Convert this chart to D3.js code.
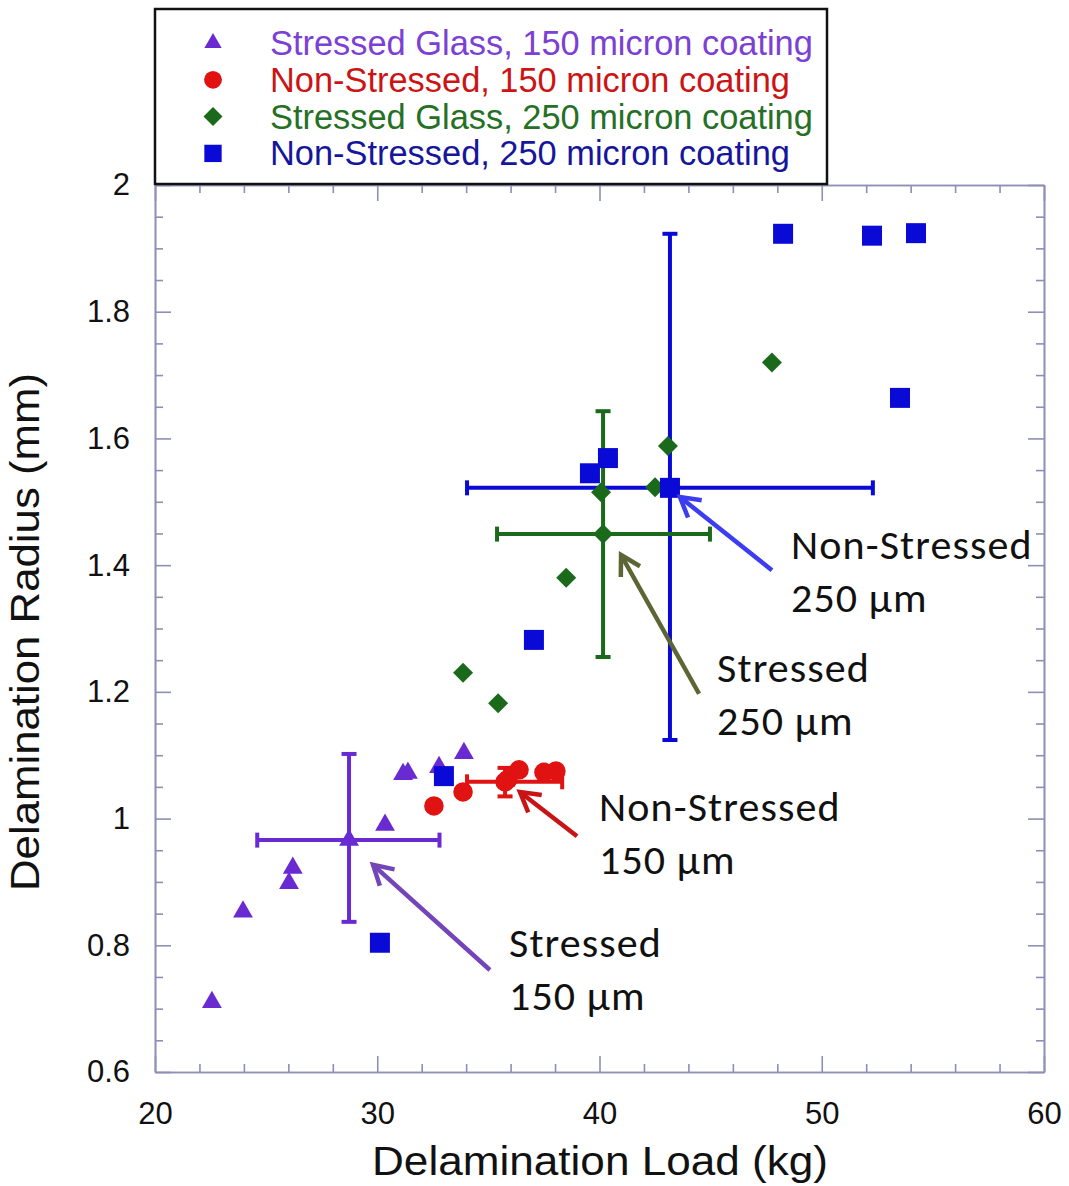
<!DOCTYPE html>
<html>
<head>
<meta charset="utf-8">
<script src="https://cdn.jsdelivr.net/npm/d3@7"></script>
<style>
  html, body { margin: 0; padding: 0; background: #fff; }
  svg { display: block; }
</style>
</head>
<body>
<svg id="chart" width="1069" height="1186"></svg>
<script>
// ---------- data ----------
const seriesNames = [
  "Stressed Glass, 150 micron coating",
  "Non-Stressed, 150 micron coating",
  "Stressed Glass, 250 micron coating",
  "Non-Stressed, 250 micron coating"
];
// Stressed Glass, 150 micron (triangles)
const s150Load   = [22.56, 23.96, 26.2, 26.03, 30.35, 31.16, 31.38, 32.78, 33.9];
const s150Radius = [0.71, 0.853, 0.922, 0.898, 0.99, 1.07, 1.072, 1.081, 1.103];
// Non-Stressed, 150 micron (circles)
const n150Load   = [32.55, 33.86, 35.88, 36.38, 37.5, 38.04];
const n150Radius = [1.02, 1.042, 1.062, 1.077, 1.073, 1.075];
// Stressed Glass, 250 micron (diamonds)
const s250Load   = [33.86, 35.44, 38.5, 40.07, 42.5, 43.08, 47.76];
const s250Radius = [1.23, 1.182, 1.38, 1.515, 1.523, 1.588, 1.72];
// Non-Stressed, 250 micron (squares)
const n250Load   = [30.12, 33.0, 37.05, 39.57, 40.38, 48.26, 52.26, 54.24, 53.52];
const n250Radius = [0.804, 1.067, 1.282, 1.545, 1.569, 1.923, 1.92, 1.924, 1.664];

// means with error bars: [meanLoad, loadLow, loadHigh, meanRadius, radiusLow, radiusHigh]
const s150Mean = [28.73, 24.6, 32.8, 0.966, 0.837, 1.102];
const n150Mean = [35.75, 34.04, 38.32, 1.058, 1.035, 1.08];
const s250Mean = [40.16, 35.39, 44.97, 1.449, 1.255, 1.643];
const n250Mean = [43.17, 34.04, 52.3, 1.522, 1.124, 1.923];

const xTicks = [20, 30, 40, 50, 60];
const xTickLabels = ["20", "30", "40", "50", "60"];
const yTicks = [0.6, 0.8, 1, 1.2, 1.4, 1.6, 1.8, 2];
const yTickLabels = ["0.6", "0.8", "1", "1.2", "1.4", "1.6", "1.8", "2"];

const annotationLines = [
  ["Non-Stressed", "250 \u00B5m"],
  ["Stressed", "250 \u00B5m"],
  ["Non-Stressed", "150 \u00B5m"],
  ["Stressed", "150 \u00B5m"]
];
// anchor of each annotation text (data units: load, radius of first baseline)
const annotationAnchor = [[48.62, 1.41], [45.29, 1.2155], [39.98, 0.996], [35.93, 0.7815]];
// arrows: [tailLoad, tailRadius, tipLoad, tipRadius]
const arrows = [
  [47.76, 1.392, 43.62, 1.5075],
  [44.48, 1.197, 40.97, 1.416],
  [38.99, 0.972, 36.42, 1.042],
  [35.07, 0.761, 29.81, 0.927]
];

// ---------- styles ----------
const markerColors = ["#6a2ad2", "#e01212", "#1b6a1b", "#0a0ad6"];
const legendTextColors = ["#7b40d4", "#cc1414", "#257025", "#16169c"];
const arrowColors = ["#3c3cf0", "#5c6634", "#c81414", "#7445b8"];
const axisColor = "#8e8eb6";

const svg = d3.select("#chart");
const x = d3.scaleLinear().domain([20, 60]).range([155, 1044]);
const y = d3.scaleLinear().domain([0.6, 2]).range([1072, 185]);

// ---------- axes ----------
const xMinor = d3.range(22, 60, 2).filter(v => v % 10 !== 0);
const yMinor = d3.range(0.65, 2, 0.05).filter(v => Math.abs(v * 5 - Math.round(v * 5)) > 1e-6);

function styleAxis(g) {
  g.selectAll("path, line").attr("stroke", axisColor).attr("stroke-width", 1.6);
  g.selectAll("text").attr("fill", "#111").attr("font-family", "'Liberation Sans', Arial, sans-serif").attr("font-size", 31);
}
const fmtX = (d, i) => xTickLabels[xTicks.indexOf(d)];
const fmtY = d => yTickLabels[yTicks.findIndex(t => Math.abs(t - d) < 1e-9)];

svg.append("g").attr("transform", "translate(0,1072)")
  .call(d3.axisBottom(x).tickValues(xTicks).tickFormat(fmtX).tickSizeInner(-16).tickSizeOuter(0).tickPadding(30))
  .call(styleAxis);
svg.append("g").attr("transform", "translate(0,1072)")
  .call(d3.axisBottom(x).tickValues(xMinor).tickFormat("").tickSizeInner(-8).tickSizeOuter(0))
  .call(styleAxis);
svg.append("g").attr("transform", "translate(0,185)")
  .call(d3.axisTop(x).tickValues(xTicks).tickFormat("").tickSizeInner(-16).tickSizeOuter(0))
  .call(styleAxis);
svg.append("g").attr("transform", "translate(0,185)")
  .call(d3.axisTop(x).tickValues(xMinor).tickFormat("").tickSizeInner(-8).tickSizeOuter(0))
  .call(styleAxis);
svg.append("g").attr("transform", "translate(155,0)")
  .call(d3.axisLeft(y).tickValues(yTicks).tickFormat(fmtY).tickSizeInner(-16).tickSizeOuter(0).tickPadding(25))
  .call(styleAxis);
svg.append("g").attr("transform", "translate(155,0)")
  .call(d3.axisLeft(y).tickValues(yMinor).tickFormat("").tickSizeInner(-8).tickSizeOuter(0))
  .call(styleAxis);
svg.append("g").attr("transform", "translate(1044,0)")
  .call(d3.axisRight(y).tickValues(yTicks).tickFormat("").tickSizeInner(-16).tickSizeOuter(0))
  .call(styleAxis);
svg.append("g").attr("transform", "translate(1044,0)")
  .call(d3.axisRight(y).tickValues(yMinor).tickFormat("").tickSizeInner(-8).tickSizeOuter(0))
  .call(styleAxis);

// axis titles
svg.append("text")
  .attr("x", 600).attr("y", 1175).attr("text-anchor", "middle")
  .attr("font-family", "'Liberation Sans', Arial, sans-serif").attr("font-size", 40).attr("fill", "#111")
  .attr("textLength", 456).attr("lengthAdjust", "spacingAndGlyphs")
  .text("Delamination Load (kg)");
svg.append("text")
  .attr("transform", "translate(39,632) rotate(-90)").attr("text-anchor", "middle")
  .attr("font-family", "'Liberation Sans', Arial, sans-serif").attr("font-size", 40).attr("fill", "#111")
  .attr("textLength", 518).attr("lengthAdjust", "spacingAndGlyphs")
  .text("Delamination Radius (mm)");

// ---------- error bars ----------
const means = [s150Mean, n150Mean, s250Mean, n250Mean];
const barOrder = [0, 3, 2, 1];
const capW = 15;
barOrder.forEach(si => {
  const m = means[si];
  const g = svg.append("g").attr("stroke", markerColors[si]).attr("stroke-width", 4).attr("fill", "none");
  g.append("line").attr("x1", x(m[1])).attr("x2", x(m[2])).attr("y1", y(m[3])).attr("y2", y(m[3]));
  g.append("line").attr("x1", x(m[0])).attr("x2", x(m[0])).attr("y1", y(m[4])).attr("y2", y(m[5]));
  [m[1], m[2]].forEach(v => g.append("line").attr("x1", x(v)).attr("x2", x(v))
    .attr("y1", y(m[3]) - capW / 2).attr("y2", y(m[3]) + capW / 2));
  [m[4], m[5]].forEach(v => g.append("line").attr("y1", y(v)).attr("y2", y(v))
    .attr("x1", x(m[0]) - capW / 2).attr("x2", x(m[0]) + capW / 2));
});

// ---------- markers ----------
const symbolGens = [
  d3.symbol().type(d3.symbolTriangle).size(170),
  d3.symbol().type(d3.symbolCircle).size(300),
  d3.symbol().type(d3.symbolSquare).size(200),
  d3.symbol().type(d3.symbolSquare).size(400)
];
const rotations = [0, 0, 45, 0];
const loads = [s150Load, n150Load, s250Load, n250Load];
const radii = [s150Radius, n150Radius, s250Radius, n250Radius];

function drawPoints(si, xs, ys) {
  svg.append("g").selectAll("path").data(xs).join("path")
    .attr("d", symbolGens[si]())
    .attr("transform", (d, i) => `translate(${x(d)},${y(ys[i])}) rotate(${rotations[si]})`)
    .attr("fill", markerColors[si]);
}
[0, 3, 2, 1].forEach(si => drawPoints(si, loads[si], radii[si]));
[0, 1, 2, 3].forEach(si => drawPoints(si, [means[si][0]], [means[si][3]]));

// ---------- arrows ----------
arrows.forEach((a, i) => {
  const x1 = x(a[0]), y1 = y(a[1]), x2 = x(a[2]), y2 = y(a[3]);
  const ang = Math.atan2(y2 - y1, x2 - x1);
  const hl = 22, spread = Math.PI / 6;
  const g = svg.append("g").attr("stroke", arrowColors[i]).attr("stroke-width", 4.5).attr("fill", "none");
  g.append("line").attr("x1", x1).attr("y1", y1).attr("x2", x2).attr("y2", y2);
  g.append("path")
    .attr("stroke-linejoin", "miter")
    .attr("d", `M${x2 - hl * Math.cos(ang - spread)},${y2 - hl * Math.sin(ang - spread)} L${x2},${y2} L${x2 - hl * Math.cos(ang + spread)},${y2 - hl * Math.sin(ang + spread)}`);
});

// ---------- annotation text ----------
annotationLines.forEach((lines, i) => {
  const t = svg.append("text")
    .attr("x", x(annotationAnchor[i][0])).attr("y", y(annotationAnchor[i][1]))
    .attr("font-family", "Carlito, Calibri, Lato, sans-serif").attr("font-size", 42)
    .attr("letter-spacing", 1.1).attr("fill", "#111");
  lines.forEach((ln, j) => t.append("tspan").attr("x", x(annotationAnchor[i][0])).attr("dy", j === 0 ? 0 : 53).text(ln));
});

// ---------- legend ----------
const legend = svg.append("g");
legend.append("rect").attr("x", 155).attr("y", 9).attr("width", 672).attr("height", 175)
  .attr("fill", "#fff").attr("stroke", "#111").attr("stroke-width", 2.5);
const legendSym = [
  d3.symbol().type(d3.symbolTriangle).size(130),
  d3.symbol().type(d3.symbolCircle).size(250),
  d3.symbol().type(d3.symbolSquare).size(180),
  d3.symbol().type(d3.symbolSquare).size(300)
];
seriesNames.forEach((name, i) => {
  const cy = 43 + i * 36.8;
  legend.append("path").attr("d", legendSym[i]())
    .attr("transform", `translate(213,${cy}) rotate(${rotations[i]})`)
    .attr("fill", markerColors[i]);
  legend.append("text").attr("x", 270).attr("y", cy + 12)
    .attr("font-family", "'Liberation Sans', Arial, sans-serif").attr("font-size", 34.4)
    .attr("fill", legendTextColors[i]).text(name);
});
</script>
</body>
</html>
